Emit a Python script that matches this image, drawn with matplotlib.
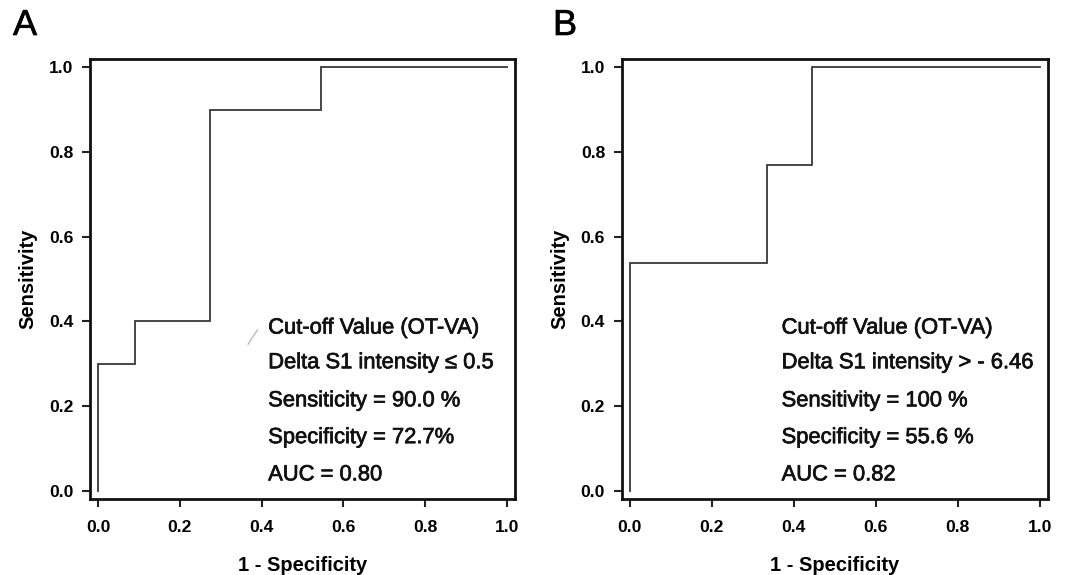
import matplotlib
matplotlib.use("Agg")
import matplotlib.pyplot as plt
import matplotlib.patheffects as pe

plt.rcParams['font.family'] = ['Liberation Sans', 'DejaVu Sans']

# ROC steps, panel A
fpr_a = [0.0, 0.0, 0.0909, 0.0909, 0.2727, 0.2727, 0.5455, 0.5455, 1.0]
tpr_a = [0.0, 0.3, 0.3, 0.4, 0.4, 0.9, 0.9, 1.0, 1.0]
txt_a = ["Cut-off Value (OT-VA)",
         "Delta S1 intensity \u2264 0.5",
         "Sensiticity = 90.0 %",
         "Specificity = 72.7%",
         "AUC = 0.80"]

# ROC steps, panel B
fpr_b = [0.0, 0.0, 0.3333, 0.3333, 0.4444, 0.4444, 1.0]
tpr_b = [0.0, 0.5385, 0.5385, 0.7692, 0.7692, 1.0, 1.0]
txt_b = ["Cut-off Value (OT-VA)",
         "Delta S1 intensity > - 6.46",
         "Sensitivity = 100 %",
         "Specificity = 55.6 %",
         "AUC = 0.82"]

txt_y = [0.384, 0.302, 0.212, 0.125, 0.037]
ticks = [0.0, 0.2, 0.4, 0.6, 0.8, 1.0]

fig = plt.figure(figsize=(10.79, 5.75), dpi=100)
ax1 = fig.add_axes([0.0834, 0.1322, 0.3939, 0.7652])
ax2 = fig.add_axes([0.5762, 0.1322, 0.3951, 0.7652])

thick = [pe.withStroke(linewidth=0.5, foreground='#111111')]


def roc_panel(ax, fpr, tpr, lines, tx):
    ax.plot(fpr, tpr, color='#383838', lw=1.3, solid_joinstyle='miter')
    ax.set_xlim(-0.02, 1.02)
    ax.set_ylim(-0.02, 1.02)
    ax.set_xticks(ticks)
    ax.set_yticks(ticks)
    ax.set_xticklabels(["%.1f" % t for t in ticks], fontweight='bold', fontsize=12.6)
    ax.set_yticklabels(["%.1f" % t for t in ticks], fontweight='bold', fontsize=12.6)
    ax.tick_params(axis='both', direction='out', length=6, width=1.5, color='#222222')
    ax.tick_params(axis='x', pad=9)
    ax.tick_params(axis='y', pad=6)
    for s in ax.spines.values():
        s.set_linewidth(2.0)
        s.set_color('#111111')
    ax.set_xlabel("1 - Specificity", fontweight='bold', fontsize=14.5, labelpad=15)
    ax.set_ylabel("Sensitivity", fontweight='bold', fontsize=14.5, labelpad=8)
    for t, y in zip(lines, txt_y):
        ax.text(tx, y, t, fontsize=15.8, va='center', ha='left', color='#111111',
                path_effects=thick)


roc_panel(ax1, fpr_a, tpr_a, txt_a, 0.416)
roc_panel(ax2, fpr_b, tpr_b, txt_b, 0.370)

# faint stray mark in panel A
ax1.plot([0.367, 0.39], [0.346, 0.38], color='#bbbbbb', lw=1.0)

fig.text(13 / 1079, 1 - 8 / 575, "A", fontsize=26, va='top', ha='left', path_effects=thick)
fig.text(553 / 1079, 1 - 8 / 575, "B", fontsize=26, va='top', ha='left', path_effects=thick)

fig.savefig("out.png", dpi=100)
